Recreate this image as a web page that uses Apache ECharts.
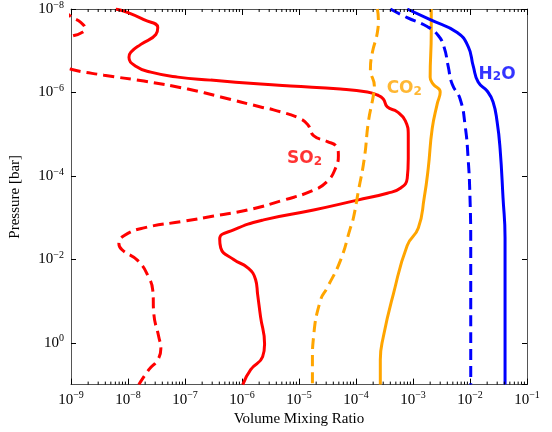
<!DOCTYPE html>
<html>
<head>
<meta charset="utf-8">
<script src="https://cdn.jsdelivr.net/npm/echarts@6/dist/echarts.min.js"></script>
<style>
html, body { margin: 0; padding: 0; background: #fff; }
#chart { width: 552px; height: 432px; }
</style>
</head>
<body>
<div id="chart"></div>
<script>
// profiles: [volume mixing ratio, pressure (bar)]
const so2Solid = [
  [6.1e-9, 1e-8], [1.0e-8, 1.22e-8], [1.9e-8, 1.8e-8], [3.33e-8, 2.78e-8], [3.08e-8, 4.08e-8],
  [1.68e-8, 7.05e-8], [1.12e-8, 1.09e-7], [1.04e-8, 1.44e-7], [1.37e-8, 2.35e-7], [2.51e-8, 3.26e-7],
  [7.46e-8, 4.29e-7], [2.82e-7, 5.06e-7], [2.12e-6, 6.29e-7], [7.1e-6, 7.02e-7], [5.32e-5, 8.28e-7],
  [1.58e-4, 9.75e-7], [2.37e-4, 1.15e-6], [3.01e-4, 1.43e-6], [3.54e-4, 2.22e-6], [5.3e-4, 2.91e-6],
  [7.31e-4, 4.76e-6], [8.26e-4, 1.08e-5], [8.26e-4, 3.81e-5], [7.92e-4, 1.14e-4], [5.98e-4, 1.97e-4],
  [3.54e-4, 2.59e-4], [1.06e-4, 3.8e-4], [1.8e-5, 6.56e-4], [2.39e-6, 1.13e-3], [7.13e-7, 1.96e-3],
  [4.06e-7, 3.21e-3], [4.23e-7, 5.25e-3], [7.13e-7, 1.01e-2], [1.25e-6, 1.57e-2], [1.73e-6, 3.03e-2],
  [1.88e-6, 6.87e-2], [2.12e-6, 0.242], [2.49e-6, 1.06], [2.3e-6, 2.16], [1.42e-6, 4.39], [1.03e-6, 10]
];
const so2Dashed = [
  [7.2e-10, 1e-8], [1e-9, 1.52e-8], [1.5e-9, 2.12e-8], [1.76e-9, 2.94e-8], [1.44e-9, 3.86e-8],
  [1e-9, 4.55e-8], [4.5e-10, 7.05e-8], [3e-10, 1.6e-7], [1e-9, 2.77e-7], [3.79e-9, 3.85e-7],
  [1.9e-8, 5.34e-7], [1.12e-7, 8.28e-7], [4.23e-7, 1.28e-6], [2.12e-6, 2.22e-6], [3.58e-6, 2.61e-6],
  [1.06e-5, 4.27e-6], [1.47e-5, 6.27e-6], [1.8e-5, 1.08e-5], [3.15e-5, 1.5e-5], [4.53e-5, 1.98e-5],
  [4.91e-5, 3.24e-5], [4.36e-5, 6.59e-5], [3.15e-5, 1.34e-4], [1.8e-5, 2.2e-4], [5.36e-6, 3.8e-4],
  [1.25e-6, 6.56e-4], [3.18e-7, 9.12e-4], [1.03e-7, 1.2e-3], [1.9e-8, 1.76e-3], [8.47e-9, 2.72e-3],
  [6.92e-9, 4.22e-3], [7.82e-9, 5.86e-3], [1.49e-8, 1.07e-2], [2.32e-8, 2.71e-2], [2.72e-8, 5.52e-2],
  [2.84e-8, 0.205], [3.47e-8, 0.723], [3.77e-8, 1.39], [3.33e-8, 2.54], [2.32e-8, 4.39], [1.55e-8, 10]
];
const co2Solid = [
  [2.09e-3, 1e-8], [2.09e-3, 3.66e-8], [2.0e-3, 4.29e-7], [2.26e-3, 6.29e-7], [3.0e-3, 9.75e-7],
  [2.66e-3, 1.88e-6], [2.17e-3, 7.38e-6], [1.85e-3, 6.59e-5], [1.57e-3, 3.4e-4], [1.24e-3, 1.76e-3],
  [7.92e-4, 4.62e-3], [4.51e-4, 6.87e-2], [3.01e-4, 0.723], [2.67e-4, 2.54], [2.67e-4, 10]
];
const co2Dashed = [
  [2.37e-4, 1e-8], [2.47e-4, 1.8e-8], [2.37e-4, 3.66e-8], [1.94e-4, 1.09e-7], [1.79e-4, 2.77e-7],
  [2.1e-4, 7.02e-7], [2.01e-4, 1.21e-6], [1.65e-4, 5.04e-6], [1.4e-4, 3.81e-5], [1.1e-4, 2.32e-4],
  [9e-5, 1.02e-3], [7.98e-5, 1.76e-3], [5.32e-5, 1.07e-2], [3.15e-5, 4.68e-2], [2.38e-5, 9.55e-2],
  [1.8e-5, 0.723], [1.72e-5, 2.54], [1.72e-5, 10]
];
const h2oSolid = [
  [7.92e-4, 1e-8], [2.0e-3, 1.8e-8], [5.96e-3, 3.66e-8], [9.27e-3, 7.87e-8], [1.14e-2, 2.35e-7],
  [1.39e-2, 5.64e-7], [2.0e-2, 9.23e-7], [2.54e-2, 1.69e-6], [2.99e-2, 5.04e-6], [3.37e-2, 2.21e-5],
  [3.8e-2, 3.4e-4], [4.12e-2, 3.03e-3], [4.12e-2, 10]
];
const h2oDashed = [
  [4e-4, 1e-8], [7.92e-4, 1.61e-8], [1.77e-3, 2.63e-8], [2.77e-3, 4.31e-8], [3.52e-3, 8.31e-8],
  [4.14e-3, 2.35e-7], [4.86e-3, 6.29e-7], [6.71e-3, 1.43e-6], [8.22e-3, 6.27e-6], [9.27e-3, 3.81e-5],
  [1.0e-2, 3.4e-4], [1.03e-2, 5.25e-3], [1.03e-2, 10]
];

// species labels placed in data space (rich text for the subscript)
const labelNames = ['H₂O', 'CO₂', 'SO₂'];
const labelRich = ['{m|H}{d|2}{m|O}', '{m|CO}{d|2}', '{m|SO}{d|2}'];
const labelVmr = [2.99e-2, 7.03e-4, 1.25e-5];
const labelP = [3.64e-7, 8.28e-7, 3.81e-5];
const labelColors = ['#0000ff', '#ffa500', '#ff0000'];

// log minor ticks (2..9 x 10^k) for the x axes
const minorTicks = [];
for (let k = -9; k < -1; k++) for (let m = 2; m <= 9; m++) minorTicks.push(m * Math.pow(10, k));

const serif = 'Liberation Serif';
const RED = '#ff0000', ORANGE = '#ffa500', BLUE = '#0000ff';

function sup(v) {
  const e = Math.round(Math.log10(v));
  return '{b|10}{s|' + (e < 0 ? '\u2212' + (-e) : e) + '}';
}
const richLabel = {
  b: { fontFamily: serif, fontSize: 15, color: '#000', lineHeight: 18 },
  s: { fontFamily: serif, fontSize: 10, color: '#000', lineHeight: 18, verticalAlign: 'top' }
};

function profile(data, color, dashed) {
  return {
    type: 'line', data: data, showSymbol: false, smooth: 0.5,
    xAxisIndex: 0, yAxisIndex: 0,
    lineStyle: { color: color, width: 3, type: dashed ? [11, 6] : 'solid' },
    itemStyle: { color: color }, z: 3
  };
}

const axisLineStyle = { color: '#555', width: 1 };
const chart = echarts.init(document.getElementById('chart'));
chart.setOption({
  animation: false,
  grid: { left: 70, right: 25, top: 9, bottom: 44 },
  xAxis: [
    {
      type: 'log', logBase: 10, min: 1e-9, max: 1e-1, interval: 1, position: 'bottom',
      name: 'Volume Mixing Ratio', nameLocation: 'middle', nameGap: 24,
      nameTextStyle: { fontFamily: serif, fontSize: 15, color: '#000' },
      axisLine: { lineStyle: axisLineStyle },
      axisTick: { inside: true, length: 6, lineStyle: { color: '#000' } },
      axisLabel: { formatter: sup, rich: richLabel, margin: 6 },
      splitLine: { show: false }
    },
    {
      type: 'log', logBase: 10, min: 1e-9, max: 1e-1, interval: 1, position: 'top',
      axisLine: { lineStyle: axisLineStyle },
      axisTick: { inside: true, length: 6, lineStyle: { color: '#000' } },
      axisLabel: { show: false }, splitLine: { show: false }
    }
  ],
  yAxis: [
    {
      type: 'log', logBase: 10, min: 1e-8, max: 1e1, interval: 2, inverse: true, position: 'left',
      name: 'Pressure [bar]', nameLocation: 'middle', nameGap: 48,
      nameTextStyle: { fontFamily: serif, fontSize: 15, color: '#000' },
      axisLine: { lineStyle: axisLineStyle },
      axisTick: { inside: true, length: 5, lineStyle: { color: '#000' } },
      axisLabel: { formatter: sup, rich: richLabel, margin: 7, showMaxLabel: false },
      splitLine: { show: false }
    },
    {
      type: 'log', logBase: 10, min: 1e-8, max: 1e1, interval: 2, inverse: true, position: 'right',
      axisLine: { lineStyle: axisLineStyle },
      axisTick: { inside: true, length: 5, lineStyle: { color: '#000' } },
      axisLabel: { show: false }, splitLine: { show: false }
    }
  ],
  series: [
    profile(so2Dashed, RED, true),
    profile(so2Solid, RED, false),
    profile(co2Dashed, ORANGE, true),
    profile(co2Solid, ORANGE, false),
    profile(h2oDashed, BLUE, true),
    profile(h2oSolid, BLUE, false),
    {
      type: 'scatter', xAxisIndex: 0, yAxisIndex: 0, symbolSize: 2, z: 5,
      itemStyle: { color: 'rgba(0,0,0,0)' },
      data: labelNames.map((n, i) => ({
        name: n, value: [labelVmr[i], labelP[i]],
        label: {
          formatter: labelRich[i],
          rich: {
            m: { fontFamily: 'DejaVu Sans', fontWeight: 'bold', fontSize: 17, color: labelColors[i], lineHeight: 20 },
            d: { fontFamily: 'DejaVu Sans', fontWeight: 'bold', fontSize: 12, color: labelColors[i], lineHeight: 20, verticalAlign: 'bottom', padding: [0, 0, 1, 0] }
          }
        }
      })),
      label: { show: true, position: 'inside' },
      labelLayout: { hideOverlap: false }
    },
    {
      type: 'custom', xAxisIndex: 0, yAxisIndex: 0, silent: true, z: 4,
      data: minorTicks.map(v => [v, 1]),
      renderItem: function (params, api) {
        const v = api.value(0);
        const b = api.coord([v, 1e1]);
        const t = api.coord([v, 1e-8]);
        const style = { stroke: '#000', lineWidth: 1 };
        return {
          type: 'group', children: [
            { type: 'line', shape: { x1: b[0], y1: b[1], x2: b[0], y2: b[1] - 3 }, style: style },
            { type: 'line', shape: { x1: t[0], y1: t[1], x2: t[0], y2: t[1] + 3 }, style: style }
          ]
        };
      }
    }
  ]
});
</script>
</body>
</html>
